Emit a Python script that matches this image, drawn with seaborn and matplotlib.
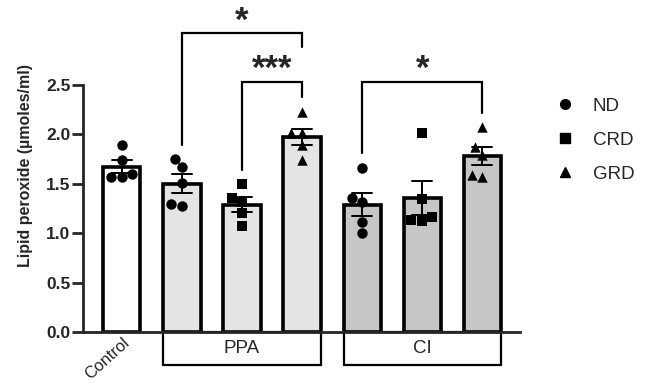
import numpy as np
import pandas as pd
import matplotlib
matplotlib.use('Agg')
import matplotlib.pyplot as plt
from matplotlib.lines import Line2D
from matplotlib.patches import Rectangle
import seaborn as sns

# ---------------------------------------------------------------------------
# Data
# ---------------------------------------------------------------------------
groups = ['Control', 'PPA ND', 'PPA CRD', 'PPA GRD', 'CI ND', 'CI CRD', 'CI GRD']
diets  = ['ND', 'ND', 'CRD', 'GRD', 'ND', 'CRD', 'GRD']

control = [1.89, 1.74, 1.57, 1.60, 1.57]
ppa_nd  = [1.75, 1.67, 1.51, 1.27, 1.30]
ppa_crd = [1.50, 1.36, 1.32, 1.20, 1.07]
ppa_grd = [2.23, 2.01, 2.01, 1.89, 1.74]
ci_nd   = [1.66, 1.32, 1.36, 1.11, 1.00]
ci_crd  = [2.01, 1.35, 1.12, 1.16, 1.13]
ci_grd  = [2.07, 1.87, 1.79, 1.57, 1.59]

values = [control, ppa_nd, ppa_crd, ppa_grd, ci_nd, ci_crd, ci_grd]

# significance: (left group, right group, label)
comparisons = [('PPA ND', 'PPA GRD', '*'),
               ('PPA CRD', 'PPA GRD', '***'),
               ('CI ND', 'CI GRD', '*')]

df = pd.DataFrame([(g, d, v) for g, d, vals in zip(groups, diets, values)
                   for v in vals], columns=['group', 'diet', 'value'])

# ---------------------------------------------------------------------------
# Plot
# ---------------------------------------------------------------------------
sns.set_style('ticks')
plt.rcParams['font.family'] = ['Liberation Sans', 'DejaVu Sans']

fig = plt.figure(figsize=(6.47, 3.91), dpi=100)
ax = fig.add_axes([0.128, 0.151, 0.676, 0.849])

sns.barplot(data=df, x='group', y='value', order=groups, color='white',
            errorbar='se', capsize=0.33, width=0.62,
            err_kws={'linewidth': 1.4, 'color': 'black'},
            edgecolor='black', linewidth=2.6, ax=ax, zorder=2)

fills = ['white', '#e4e4e4', '#e4e4e4', '#e4e4e4', '#c6c6c6', '#c6c6c6', '#c6c6c6']
for patch, fc in zip(ax.patches, fills):
    patch.set_facecolor(fc)

markers = {'ND': 'o', 'CRD': 's', 'GRD': '^'}
for diet, mk in markers.items():
    sns.swarmplot(data=df[df['diet'] == diet], x='group', y='value',
                  order=groups, color='black', marker=mk, size=7.5,
                  ax=ax, zorder=4)

# significance brackets: left leg bottom, right leg bottom, top, star baseline
bracket_geom = [(1.89, 2.88, 3.03, 3.05),
                (1.64, 2.38, 2.53, 2.56),
                (1.81, 2.22, 2.53, 2.56)]
for (g1, g2, lab), (yl, yr, yt, ys) in zip(comparisons, bracket_geom):
    x1, x2 = groups.index(g1), groups.index(g2)
    ax.plot([x1, x1, x2, x2], [yl, yt, yt, yr], color='black', lw=1.6,
            clip_on=False, solid_joinstyle='miter')
    ax.text((x1 + x2) / 2, ys, lab, ha='center', va='baseline',
            fontsize=25, fontweight='bold', clip_on=False)

# group boxes under the x axis
trans = ax.get_xaxis_transform()
for name, idx in [('PPA', [1, 2, 3]), ('CI', [4, 5, 6])]:
    x0, x1 = idx[0] - 0.31, idx[-1] + 0.31
    ax.add_patch(Rectangle((x0, -0.099), x1 - x0, 0.099, transform=trans,
                           fill=False, edgecolor='black', lw=1.6,
                           clip_on=False))
    ax.text((x0 + x1) / 2, -0.05, name, transform=trans, ha='center',
            va='center', fontsize=13.5)

ax.set_xlim(-0.65, 6.63)
ax.set_ylim(0, 3.36)
ax.set_yticks(np.arange(0, 2.51, 0.5))
ax.set_yticklabels([f'{t:.1f}' for t in np.arange(0, 2.51, 0.5)],
                   fontweight='bold', fontsize=12.5)
ax.set_xticks([0])
ax.set_xticklabels(['Control'], rotation=42, ha='right',
                   rotation_mode='anchor', fontsize=12)
ax.tick_params(axis='x', length=0, pad=2)
ax.tick_params(axis='y', length=8, width=2, pad=1)
ax.set_xlabel('')
ax.set_ylabel('Lipid peroxide (µmoles/ml)', fontsize=11.5, fontweight='bold',
              labelpad=9)

sns.despine(ax=ax)
ax.spines['left'].set_bounds(0, 2.5)
ax.spines['left'].set_linewidth(2)
ax.spines['bottom'].set_linewidth(2)

handles = [Line2D([], [], marker=mk, color='black', ls='none', markersize=7)
           for mk in markers.values()]
fig.legend(handles, list(markers.keys()), loc='center left',
           bbox_to_anchor=(0.859, 0.642), frameon=False, fontsize=13.5,
           handlelength=1, handletextpad=0.97, labelspacing=0.9,
           borderpad=0, borderaxespad=0)

fig.savefig('out.png', dpi=100)
